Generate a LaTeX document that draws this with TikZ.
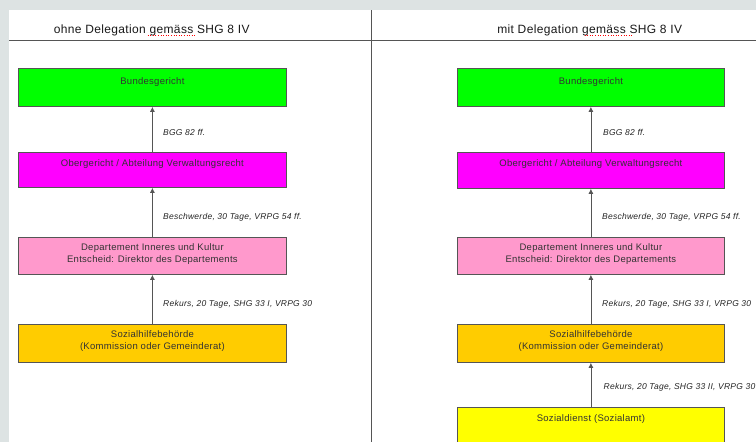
\documentclass[tikz,border=0pt]{standalone}
\usepackage{fontspec}
\setmainfont{Liberation Sans}
\newfontfamily\boxfont{Liberation Sans}[LetterSpace=3]
\newfontfamily\titlefont{Liberation Sans}[LetterSpace=3]
\usetikzlibrary{arrows.meta}
\definecolor{pagegrey}{HTML}{DDE3E3}
\definecolor{rulegrey}{HTML}{555555}
\definecolor{boxline}{HTML}{555555}
\definecolor{boxtextc}{HTML}{333333}
\definecolor{cgreen}{HTML}{00FF00}
\definecolor{cmagenta}{HTML}{FF00FF}
\definecolor{cpink}{HTML}{FF99CC}
\definecolor{cgold}{HTML}{FFCC00}
\definecolor{cyellow}{HTML}{FFFF00}
\tikzset{
  panelrule/.style={draw=rulegrey, line width=0.9pt},
  box/.style={draw=boxline, line width=0.8pt, anchor=north west, inner sep=0pt, minimum width=268pt},
  boxtext/.style={anchor=north, inner sep=0pt, align=center, text=boxtextc,
    font=\boxfont\fontsize{9.5}{12.6}\selectfont, execute at begin node=\rule{0pt}{7pt}},
  lab/.style={anchor=base west, inner sep=0pt, text=black!85,
    font=\boxfont\itshape\fontsize{8.5}{10}\selectfont},
  title/.style={anchor=base, inner sep=0pt, text=black!90, font=\titlefont\fontsize{12}{14}\selectfont},
  arr/.style={draw=rulegrey, line width=0.8pt, -{Latex[length=5pt,width=5pt]}},
  spell/.style={draw=red, line width=0.6pt, dotted}
}
\begin{document}
\begin{tikzpicture}[x=1pt,y=-1pt]
\useasboundingbox (0,0) rectangle (756,442);
\clip (0,0) rectangle (756,442);
\fill[pagegrey] (0,0) rectangle (756,442);
\fill[white] (9,10) rectangle (760,450);
\draw[panelrule] (9,40.5) -- (756,40.5);
\draw[panelrule] (371.5,10) -- (371.5,446);

% titles
\node[title] (tl) at (151.7,33.3) {ohne Delegation gemäss SHG 8 IV};
\node[title] (tr) at (589.7,33.3) {mit Delegation gemäss SHG 8 IV};
\draw[spell] (147.5,35.2) -- (195,35.2);
\draw[spell] (584.5,35.2) -- (632,35.2);

% ---------- left column
\node[box, fill=cgreen,   minimum height=38pt] (lbg) at (18,68) {};
\node[box, fill=cmagenta, minimum height=35pt] (log) at (18,152) {};
\node[box, fill=cpink,    minimum height=37pt] (ldk) at (18,237) {};
\node[box, fill=cgold,    minimum height=38pt] (lsh) at (18,324) {};

\node[boxtext] (lbgt) at ([yshift=-9pt]lbg.north) {Bundesgericht};
\node[boxtext] (logt) at ([yshift=-7pt]log.north) {Obergericht / Abteilung Verwaltungsrecht};
\node[boxtext] (ldkt) at ([yshift=-6pt]ldk.north) {Departement Inneres und Kultur\\Entscheid: Direktor des Departements};
\node[boxtext] (lsht) at ([yshift=-6pt]lsh.north) {Sozialhilfebehörde\\(Kommission oder Gemeinderat)};

\draw[arr] (log.north) -- (lbg.south);
\draw[arr] (ldk.north) -- (log.south);
\draw[arr] (lsh.north) -- (ldk.south);

\node[lab] (ll1) at (163,135) {BGG 82 ff.};
\node[lab] (ll2) at (163,219) {Beschwerde, 30 Tage, VRPG 54 ff.};
\node[lab] (ll3) at (163,306) {Rekurs, 20 Tage, SHG 33 I, VRPG 30};

% ---------- right column
\node[box, fill=cgreen,   minimum height=38pt, minimum width=267pt] (rbg) at (457,68) {};
\node[box, fill=cmagenta, minimum height=36pt, minimum width=267pt] (rog) at (457,152) {};
\node[box, fill=cpink,    minimum height=37pt, minimum width=267pt] (rdk) at (457,237) {};
\node[box, fill=cgold,    minimum height=38pt, minimum width=267pt] (rsh) at (457,324) {};
\node[box, fill=cyellow,  minimum height=50pt, minimum width=267pt] (rsd) at (457,407) {};

\node[boxtext] (rbgt) at ([yshift=-9pt]rbg.north) {Bundesgericht};
\node[boxtext] (rogt) at ([yshift=-7pt]rog.north) {Obergericht / Abteilung Verwaltungsrecht};
\node[boxtext] (rdkt) at ([yshift=-6pt]rdk.north) {Departement Inneres und Kultur\\Entscheid: Direktor des Departements};
\node[boxtext] (rsht) at ([yshift=-6pt]rsh.north) {Sozialhilfebehörde\\(Kommission oder Gemeinderat)};
\node[boxtext] (rsdt) at ([yshift=-7pt]rsd.north) {Sozialdienst (Sozialamt)};

\draw[arr] (rog.north) -- (rbg.south);
\draw[arr] (rdk.north) -- (rog.south);
\draw[arr] (rsh.north) -- (rdk.south);
\draw[arr] (rsd.north) -- (rsh.south);

\node[lab] (rl1) at (603,135) {BGG 82 ff.};
\node[lab] (rl2) at (602,219) {Beschwerde, 30 Tage, VRPG 54 ff.};
\node[lab] (rl3) at (602,306) {Rekurs, 20 Tage, SHG 33 I, VRPG 30};
\node[lab] (rl4) at (603.5,389) {Rekurs, 20 Tage, SHG 33 II, VRPG 30};
\end{tikzpicture}
\end{document}
